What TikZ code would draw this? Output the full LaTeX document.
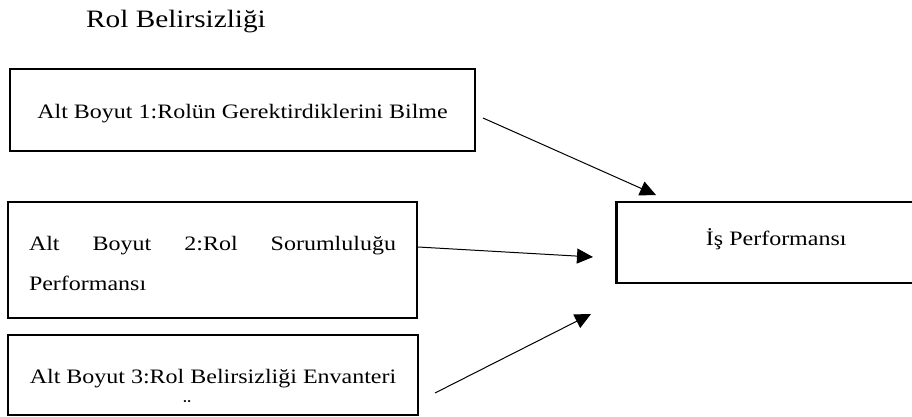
\documentclass[tikz,border=0pt]{standalone}
\usepackage{fontspec}
\setmainfont{Liberation Serif}[FakeStretch=1.17]
\usetikzlibrary{arrows.meta}
\tikzstyle{bx}=[rectangle,draw=black,line width=2.5pt,inner sep=0pt,font=\fontsize{20.5}{40}\selectfont]
\tikzstyle{arr}=[-{Triangle[length=16pt,width=15pt]},line width=1pt]

\begin{document}
\begin{tikzpicture}[x=1pt,y=-1pt]
\useasboundingbox (0,0) rectangle (912,417);
\node[anchor=base,font=\fontsize{25}{30}\selectfont] (title) at (176,28) {Rol Belirsizliği};
\node[bx,minimum width=465pt,minimum height=82pt,text height=20pt,text depth=4pt] (alt1) at (242.5,110) {Alt Boyut 1:Rolün Gerektirdiklerini Bilme};
\node[bx,minimum width=409pt,minimum height=116pt,text width=367pt,align=left] (alt2) at (212.5,260) {\rule{0pt}{21pt}Alt\hfill Boyut\hfill 2:Rol\hfill Sorumluluğu\\Performansı};
\node[bx,minimum width=410pt,minimum height=80pt,text height=20pt,text depth=4pt] (alt3) at (213,375) {Alt Boyut 3:Rol Belirsizliği Envanteri};
\node[anchor=base,inner sep=0pt,font=\fontsize{20.5}{24}\selectfont] (trema) at (187,413) {¨};
\node[bx,anchor=west,minimum width=320pt,minimum height=81pt,text height=14pt,text depth=9pt] (is) at (615,242.5) {İş Performansı\hspace{14pt}};
% ok uclari
\coordinate (s1) at (483,118); \coordinate (e1) at (656,195);
\coordinate (s2) at (418,247); \coordinate (e2) at (593,257);
\coordinate (s3) at (435,393); \coordinate (e3) at (591,314);
\draw[arr] (s1) -- (e1);
\draw[arr] (s2) -- (e2);
\draw[arr] (s3) -- (e3);
\end{tikzpicture}
\end{document}
